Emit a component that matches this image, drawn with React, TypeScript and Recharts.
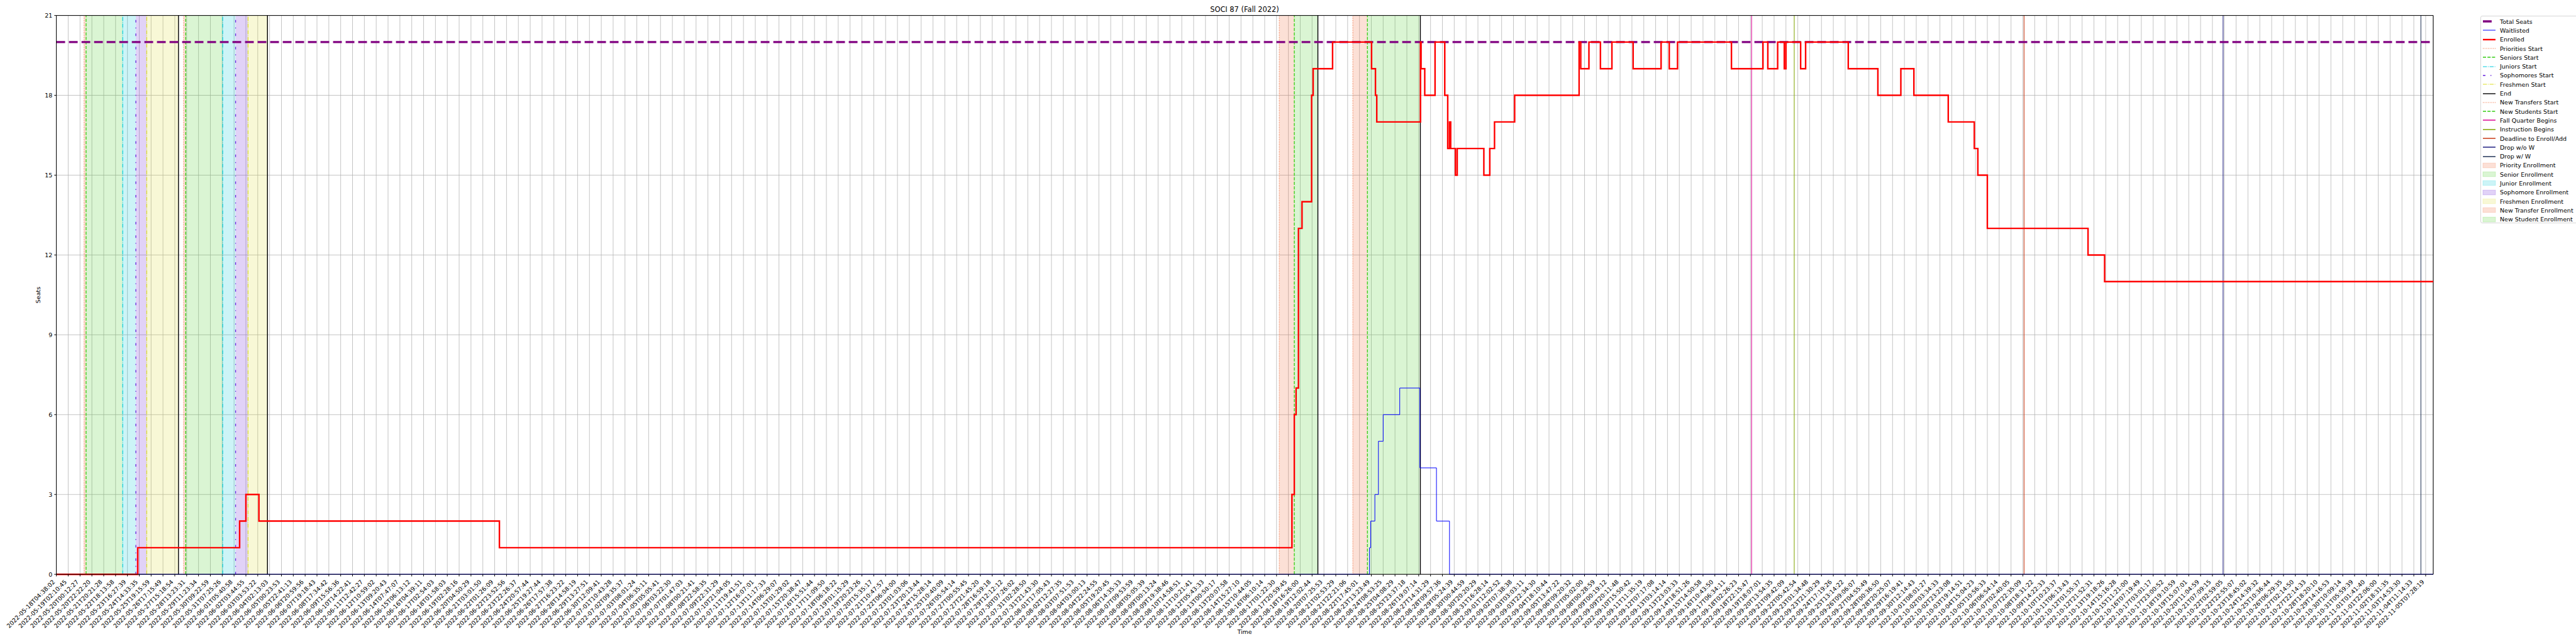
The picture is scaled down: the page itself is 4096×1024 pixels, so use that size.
import React from "react";
import { ComposedChart, Line, XAxis, YAxis, CartesianGrid, ReferenceLine, ReferenceArea } from "recharts";

// x-axis tick labels (one per gridline, category-style time axis)
const tickLabels = [
  "2022-05-18T04:38:02", "2022-05-19T02:10:45", "2022-05-20T00:12:27", "2022-05-20T22:22:20", "2022-05-21T20:21:28",
  "2022-05-22T18:13:58", "2022-05-23T16:27:39", "2022-05-24T14:33:35", "2022-05-25T19:15:59", "2022-05-26T17:15:49",
  "2022-05-27T15:18:54", "2022-05-28T13:23:31", "2022-05-29T11:23:34", "2022-05-30T09:22:59", "2022-05-31T07:25:26",
  "2022-06-01T05:40:58", "2022-06-02T03:44:55", "2022-06-03T03:53:22", "2022-06-04T02:13:03", "2022-06-05T00:23:53",
  "2022-06-05T22:41:13", "2022-06-06T20:59:56", "2022-06-07T19:18:43", "2022-06-08T17:34:42", "2022-06-09T15:56:36",
  "2022-06-10T14:22:41", "2022-06-11T12:42:27", "2022-06-12T10:59:02", "2022-06-13T09:20:43", "2022-06-14T07:47:07",
  "2022-06-15T06:13:12", "2022-06-16T04:39:11", "2022-06-17T02:54:03", "2022-06-18T01:58:03", "2022-06-19T02:28:16",
  "2022-06-20T04:50:29", "2022-06-21T03:01:50", "2022-06-22T01:26:09", "2022-06-22T23:52:56", "2022-06-23T22:26:37",
  "2022-06-24T20:57:44", "2022-06-25T19:27:44", "2022-06-26T17:57:38", "2022-06-27T16:23:22", "2022-06-28T14:58:19",
  "2022-06-29T13:27:51", "2022-06-30T12:09:41", "2022-07-01T10:43:28", "2022-07-02T09:35:37", "2022-07-03T08:01:24",
  "2022-07-04T06:35:11", "2022-07-05T05:05:41", "2022-07-06T03:22:30", "2022-07-07T01:47:03", "2022-07-08T00:21:41",
  "2022-07-08T22:58:35", "2022-07-09T22:31:29", "2022-07-10T21:04:05", "2022-07-11T19:41:51", "2022-07-12T16:07:01",
  "2022-07-13T11:17:33", "2022-07-14T06:29:07", "2022-07-15T01:29:02", "2022-07-15T20:38:47", "2022-07-16T15:51:44",
  "2022-07-17T11:09:50", "2022-07-18T06:18:22", "2022-07-19T01:15:29", "2022-07-19T20:23:26", "2022-07-20T15:35:17",
  "2022-07-21T10:47:57", "2022-07-22T06:04:00", "2022-07-23T01:03:06", "2022-07-23T20:13:44", "2022-07-24T15:28:14",
  "2022-07-25T10:40:09", "2022-07-26T05:54:14", "2022-07-27T00:55:45", "2022-07-27T21:45:20", "2022-07-28T16:59:18",
  "2022-07-29T12:12:12", "2022-07-30T07:26:02", "2022-07-31T02:28:50", "2022-07-31T21:43:30", "2022-08-01T17:05:43",
  "2022-08-02T12:27:35", "2022-08-03T07:51:53", "2022-08-04T03:00:13", "2022-08-04T22:24:55", "2022-08-05T19:20:45",
  "2022-08-06T14:35:33", "2022-08-07T09:53:59", "2022-08-08T05:05:39", "2022-08-09T00:13:24", "2022-08-09T19:38:46",
  "2022-08-10T14:58:51", "2022-08-11T10:21:41", "2022-08-12T05:43:33", "2022-08-13T00:50:17", "2022-08-13T20:07:58",
  "2022-08-14T15:27:10", "2022-08-15T10:44:05", "2022-08-16T06:10:14", "2022-08-17T01:22:30", "2022-08-17T20:59:45",
  "2022-08-18T16:26:00", "2022-08-19T12:02:44", "2022-08-20T07:25:53", "2022-08-21T02:53:29", "2022-08-21T22:21:06",
  "2022-08-22T17:45:01", "2022-08-23T13:23:49", "2022-08-24T08:53:25", "2022-08-25T04:08:29", "2022-08-25T23:37:18",
  "2022-08-26T19:07:14", "2022-08-27T14:31:29", "2022-08-28T09:57:36", "2022-08-29T05:24:39", "2022-08-30T00:44:59",
  "2022-08-30T20:20:29", "2022-08-31T16:28:14", "2022-09-01T12:02:52", "2022-09-02T07:38:38", "2022-09-03T03:03:11",
  "2022-09-03T22:34:30", "2022-09-04T18:10:44", "2022-09-05T13:47:22", "2022-09-06T09:20:32", "2022-09-07T05:02:00",
  "2022-09-08T00:28:59", "2022-09-09T00:19:12", "2022-09-09T20:11:48", "2022-09-10T15:50:42", "2022-09-11T11:35:19",
  "2022-09-12T07:17:08", "2022-09-13T03:14:14", "2022-09-13T23:03:33", "2022-09-14T18:51:26", "2022-09-15T14:50:58",
  "2022-09-16T10:43:50", "2022-09-17T06:34:11", "2022-09-18T02:26:23", "2022-09-18T22:15:47", "2022-09-19T18:07:01",
  "2022-09-20T13:54:35", "2022-09-21T09:42:09", "2022-09-22T05:42:54", "2022-09-23T01:34:48", "2022-09-23T21:30:29",
  "2022-09-24T17:19:26", "2022-09-25T13:14:22", "2022-09-26T09:06:07", "2022-09-27T04:55:49", "2022-09-28T00:36:50",
  "2022-09-28T20:25:07", "2022-09-29T16:19:41", "2022-09-30T12:14:43", "2022-10-01T08:01:27", "2022-10-02T03:34:33",
  "2022-10-02T23:23:08", "2022-10-03T19:14:51", "2022-10-04T15:04:23", "2022-10-05T10:56:33", "2022-10-06T06:54:14",
  "2022-10-07T02:40:05", "2022-10-07T22:35:09", "2022-10-08T18:31:22", "2022-10-09T14:22:33", "2022-10-10T10:23:37",
  "2022-10-11T06:13:43", "2022-10-12T01:55:37", "2022-10-12T21:52:31", "2022-10-13T19:18:26", "2022-10-14T15:16:28",
  "2022-10-15T11:21:00", "2022-10-16T07:19:49", "2022-10-17T03:01:17", "2022-10-17T23:00:52", "2022-10-18T19:10:59",
  "2022-10-19T15:07:01", "2022-10-20T11:04:59", "2022-10-21T07:09:15", "2022-10-22T02:59:05", "2022-10-22T22:55:07",
  "2022-10-23T18:45:02", "2022-10-24T14:39:32", "2022-10-25T10:36:44", "2022-10-26T06:29:35", "2022-10-27T02:14:50",
  "2022-10-27T22:14:33", "2022-10-28T18:20:10", "2022-10-29T14:16:53", "2022-10-30T10:09:14", "2022-10-31T05:59:39",
  "2022-11-01T01:41:40", "2022-11-01T22:06:00", "2022-11-02T18:31:35", "2022-11-03T14:53:30", "2022-11-04T11:14:33",
  "2022-11-05T07:28:19",
];

// positions below are in tick-index units along the time axis
const X_END = 200.64;
const yTicks = [0, 3, 6, 9, 12, 15, 18, 21];
const totalSeats = 20;

const priorityStart = [2.34, 10.74];
const seniorStart = [2.51, 10.92];
const juniorStart = [5.6, 14.04];
const sophomoreStart = [6.71, 15.13];
const freshmenStart = [7.63, 16.18];
const phaseEnd = [10.31, 17.82, 106.49, 115.14];
const newTransferStart = [103.23, 109.44];
const newStudentStart = [104.5, 110.67];
const newStudentEnd = [106.49, 115.08];
const fallQuarterBegins = 143.1;
const instructionBegins = 146.7;
const addDeadline = 166.1;
const dropNoW = 182.9;
const dropW = 199.6;

const enrolledT = [0, 6.87, 15.47, 16.0, 17.1, 37.4, 104.3, 104.5, 104.65, 104.85, 105.15, 105.96, 106.09, 107.73,
  111.02, 111.35, 111.46, 115.15, 115.2, 115.51, 116.38, 117.2, 117.45, 117.6, 117.7, 118.1, 118.25, 120.5, 121.0,
  121.4, 123.1, 128.54, 128.68, 129.37, 130.34, 131.31, 133.1, 135.46, 136.15, 136.85, 141.4, 144.06, 144.47, 145.3,
  145.86, 146.0, 147.24, 147.66, 151.26, 153.76, 155.7, 156.8, 159.7, 161.9, 162.2, 163.0, 171.5, 172.9];
const enrolledN = [0, 1, 2, 3, 2, 1, 3, 6, 7, 13, 14, 18, 19, 20,
  19, 18, 17, 20, 19, 18, 20, 18, 16, 17, 16, 15, 16, 15, 16,
  17, 18, 20, 19, 20, 19, 20, 19, 20, 19, 20, 19, 20, 19, 20,
  19, 20, 19, 20, 19, 18, 19, 18, 17, 16, 15, 13, 12, 11];

const waitT = [0, 110.85, 110.95, 111.3, 111.6, 112.0, 113.4, 115.1, 116.5, 117.6];
const waitN = [0, 1, 2, 3, 5, 6, 7, 4, 2, 0];

const toSeries = (t: number[], n: number[]) =>
  t.map((x, i) => ({ x, v: n[i] })).concat([{ x: X_END, v: n[n.length - 1] }]);

const enrolledData = toSeries(enrolledT, enrolledN);
const waitData = toSeries(waitT, waitN);

const FONT = "DejaVu Sans";

const sty = {
  priority: { color: "#ee6633", dash: "1 1.7", w: 1.1 },
  senior: { color: "#33cc11", dash: "5 2.2", w: 1.3 },
  junior: { color: "#00ccdd", dash: "6.4 1.6 1 1.6", w: 1.2 },
  sophomore: { color: "#6622dd", dash: "4 8 1.4 8", w: 1.3 },
  freshmen: { color: "#dddd22", dash: "6.4 1.6 1 1.6", w: 1.2 },
  end: { color: "#000000", dash: undefined, w: 1.4 },
  fall: { color: "#dd1199", dash: undefined, w: 1.1 },
  instr: { color: "#88aa11", dash: undefined, w: 1.1 },
  deadline: { color: "#cc4422", dash: undefined, w: 1.1 },
  dropNoW: { color: "#2b2b88", dash: undefined, w: 1.1 },
  dropW: { color: "#2e3f5f", dash: undefined, w: 1.1 },
};

const fills = {
  priority: "#ee6633",
  senior: "#44cc22",
  junior: "#00c8d8",
  sophomore: "#6a1fd6",
  freshmen: "#dddd33",
};

const legendItems = [
  { label: "Total Seats", kind: "line", color: "#800080", w: 3.4, dash: "13.9 6.1" },
  { label: "Waitlisted", kind: "line", color: "#0000ff", w: 1, dash: undefined },
  { label: "Enrolled", kind: "line", color: "#ff0000", w: 2.4, dash: undefined },
  { label: "Priorities Start", kind: "line", ...sty.priority },
  { label: "Seniors Start", kind: "line", ...sty.senior },
  { label: "Juniors Start", kind: "line", ...sty.junior },
  { label: "Sophomores Start", kind: "line", ...sty.sophomore },
  { label: "Freshmen Start", kind: "line", ...sty.freshmen },
  { label: "End", kind: "line", ...sty.end },
  { label: "New Transfers Start", kind: "line", ...sty.priority },
  { label: "New Students Start", kind: "line", ...sty.senior },
  { label: "Fall Quarter Begins", kind: "line", ...sty.fall, w: 1.6 },
  { label: "Instruction Begins", kind: "line", ...sty.instr, w: 1.6 },
  { label: "Deadline to Enroll/Add", kind: "line", ...sty.deadline, w: 1.6 },
  { label: "Drop w/o W", kind: "line", ...sty.dropNoW, w: 1.6 },
  { label: "Drop w/ W", kind: "line", ...sty.dropW, w: 1.6 },
  { label: "Priority Enrollment", kind: "patch", color: fills.priority },
  { label: "Senior Enrollment", kind: "patch", color: fills.senior },
  { label: "Junior Enrollment", kind: "patch", color: fills.junior },
  { label: "Sophomore Enrollment", kind: "patch", color: fills.sophomore },
  { label: "Freshmen Enrollment", kind: "patch", color: fills.freshmen },
  { label: "New Transfer Enrollment", kind: "patch", color: fills.priority },
  { label: "New Student Enrollment", kind: "patch", color: fills.senior },
];

const XTick = (props: any) => {
  const { x, y, payload } = props;
  const ax = x - 1.6;
  const ay = y + 9.4;
  return (
    <text x={ax} y={ay} transform={`rotate(-45 ${ax} ${ay})`} textAnchor="end" fontSize={9.5} fontFamily={FONT} fill="#000">
      {tickLabels[payload.value]}
    </text>
  );
};

function Legend() {
  return (
    <div
      style={{
        position: "absolute",
        left: 3944,
        top: 25,
        width: 160,
        height: 330,
        border: "1px solid #d6d6d6",
        borderRadius: 3,
        background: "#fff",
        boxSizing: "border-box",
        paddingTop: 1,
      }}
    >
      {legendItems.map((it) => (
        <div key={it.label} style={{ height: 14.3, display: "flex", alignItems: "center", whiteSpace: "nowrap" }}>
          <svg width={30} height={14} style={{ flex: "none" }}>
            {it.kind === "line" ? (
              <line x1={3} x2={23} y1={7} y2={7} stroke={it.color} strokeWidth={(it as any).w} strokeDasharray={(it as any).dash} />
            ) : (
              <rect x={3} y={3.3} width={20} height={7.5} fill={it.color} fillOpacity={0.2} stroke={it.color} strokeOpacity={0.2} />
            )}
          </svg>
          <span style={{ fontFamily: FONT, fontSize: 9.5, color: "#000" }}>{it.label}</span>
        </div>
      ))}
    </div>
  );
}

const vline = (x: number, s: { color: string; dash?: string; w: number }, key: string) => (
  <ReferenceLine key={key} x={x} stroke={s.color} strokeWidth={s.w} strokeDasharray={s.dash} />
);

export default function App() {
  const areas: [number, number, string][] = [];
  for (let i = 0; i < 2; i++) {
    areas.push([priorityStart[i], seniorStart[i], fills.priority]);
    areas.push([seniorStart[i], juniorStart[i], fills.senior]);
    areas.push([juniorStart[i], sophomoreStart[i], fills.junior]);
    areas.push([sophomoreStart[i], freshmenStart[i], fills.sophomore]);
    areas.push([freshmenStart[i], phaseEnd[i], fills.freshmen]);
    areas.push([newTransferStart[i], newStudentStart[i], fills.priority]);
    areas.push([newStudentStart[i], newStudentEnd[i], fills.senior]);
  }

  return (
    <div style={{ position: "absolute", left: 0, top: 0, width: 4096, height: 1024, background: "#fff" }}>
      <ComposedChart width={4096} height={1024} margin={{ top: 24.6, right: 227, bottom: 0, left: 0 }}>
        <CartesianGrid stroke="#b0b0b0" strokeWidth={0.75} />
        {areas.map(([a, b, c], i) => (
          <ReferenceArea key={`a${i}`} x1={a} x2={b} y1={0} y2={21} fill={c} fillOpacity={0.2} stroke="none" />
        ))}
        {priorityStart.map((x, i) => vline(x, sty.priority, `p${i}`))}
        {seniorStart.map((x, i) => vline(x, sty.senior, `s${i}`))}
        {juniorStart.map((x, i) => vline(x, sty.junior, `j${i}`))}
        {sophomoreStart.map((x, i) => vline(x, sty.sophomore, `so${i}`))}
        {freshmenStart.map((x, i) => vline(x, sty.freshmen, `f${i}`))}
        {phaseEnd.map((x, i) => vline(x, sty.end, `e${i}`))}
        {newTransferStart.map((x, i) => vline(x, sty.priority, `nt${i}`))}
        {newStudentStart.map((x, i) => vline(x, sty.senior, `ns${i}`))}
        {vline(fallQuarterBegins, sty.fall, "fq")}
        {vline(instructionBegins, sty.instr, "ib")}
        {vline(addDeadline, sty.deadline, "dl")}
        {vline(dropNoW, sty.dropNoW, "dn")}
        {vline(dropW, sty.dropW, "dw")}
        <ReferenceLine y={totalSeats} stroke="#800080" strokeWidth={3.4} strokeDasharray="13.9 6.1" />
        <XAxis
          dataKey="x"
          type="number"
          domain={[0, X_END]}
          ticks={tickLabels.map((_, i) => i)}
          interval={0}
          tick={<XTick />}
          tickSize={3.3}
          tickMargin={0}
          height={110.8}
          stroke="#000"
          allowDataOverflow
        />
        <YAxis
          type="number"
          domain={[0, 21]}
          ticks={yTicks}
          interval={0}
          width={89.6}
          tickSize={3.3}
          tickMargin={3}
          stroke="#000"
          tick={{ fontSize: 9.5, fontFamily: FONT, fill: "#000" }}
        />
        <ReferenceLine y={21} stroke="#000" strokeWidth={1} />
        <ReferenceLine x={X_END} stroke="#000" strokeWidth={1} />
        <Line data={waitData} dataKey="v" type="stepAfter" stroke="#0000ff" strokeWidth={1} dot={false} isAnimationActive={false} />
        <Line data={enrolledData} dataKey="v" type="stepAfter" stroke="#ff0000" strokeWidth={2.4} dot={false} isAnimationActive={false} />
      </ComposedChart>
      <svg width={4096} height={1024} style={{ position: "absolute", left: 0, top: 0, pointerEvents: "none" }}>
        <text x={1979} y={18.9} textAnchor="middle" fontSize={11.4} fontFamily={FONT}>SOCI 87 (Fall 2022)</text>
        <text x={1979} y={1008} textAnchor="middle" fontSize={9.5} fontFamily={FONT}>Time</text>
        <text x={60} y={469} textAnchor="middle" dominantBaseline="central" transform="rotate(-90 60 469)" fontSize={9.5} fontFamily={FONT}>Seats</text>
      </svg>
      <Legend />
    </div>
  );
}
